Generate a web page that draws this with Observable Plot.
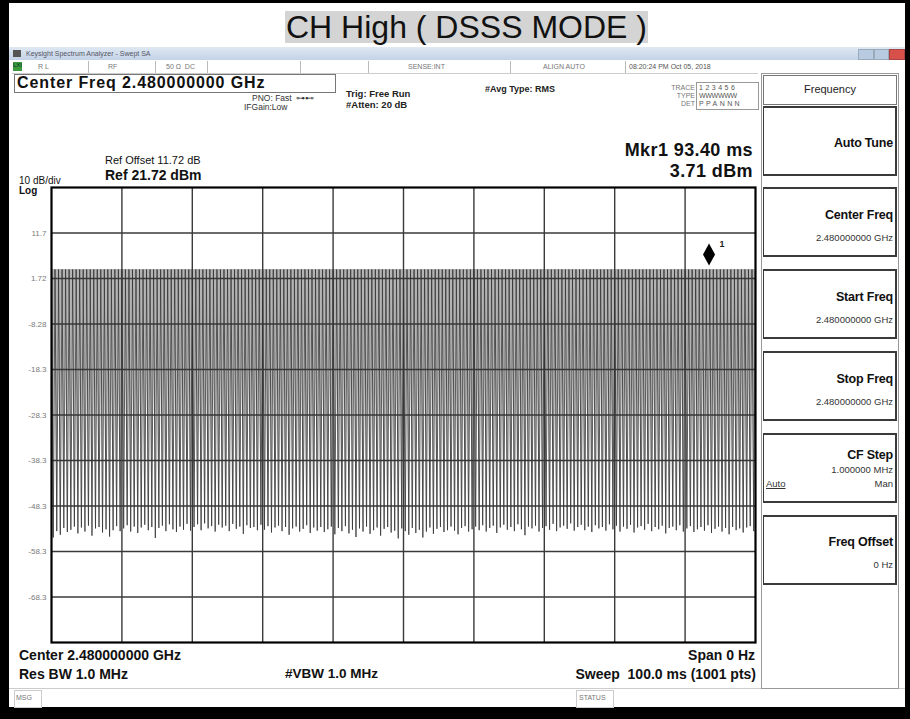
<!DOCTYPE html>
<html><head><meta charset="utf-8">
<script src="https://cdn.jsdelivr.net/npm/d3@7"></script>
<script src="https://cdn.jsdelivr.net/npm/@observablehq/plot@0.6"></script>
<style>
body{margin:0;background:#fff;}
#page{position:relative;width:910px;height:719px;overflow:hidden;background:#fff;font-family:"Liberation Sans",Arial,sans-serif;color:#111;}
.a{position:absolute;white-space:nowrap;line-height:1;}
.b{font-weight:bold;}
.tiny{font-size:7px;color:#777;}
.sep{position:absolute;top:61px;height:12px;border-left:1px solid #bbb;}
.key{position:absolute;left:763px;width:131px;height:66px;border:2px solid #3a3a3a;border-left-width:1.5px;background:#fff;}
.key .l{position:absolute;right:2px;font-weight:bold;font-size:12.5px;letter-spacing:-0.2px;}
.key .v{position:absolute;right:2px;font-size:9.5px;color:#333;}
#plot{position:absolute;left:0;top:180px;}
</style></head>
<body><div id="page">
  <!-- outer black frame -->
  <div class="a" style="left:0;top:0;width:9px;height:719px;background:#000"></div>
  <div class="a" style="left:0;top:0;width:910px;height:3px;background:#000"></div>
  <div class="a" style="left:905px;top:0;width:5px;height:719px;background:#000"></div>
  <div class="a" style="left:0;top:707px;width:910px;height:12px;background:#000"></div>

  <!-- title -->
  <div class="a" style="left:285px;top:11px;height:32px;background:#d4d4d4;font-size:32px;line-height:32px;padding:0 1px;">CH High ( DSSS MODE )</div>

  <!-- window title bar -->
  <div class="a" style="left:9px;top:47px;width:896px;height:13px;background:linear-gradient(#dfe8f3,#c3d3e6);"></div>
  <div class="a" style="left:13px;top:50px;width:8px;height:7px;background:#555;"></div>
  <div class="a tiny" style="left:26px;top:50px;color:#556;">Keysight Spectrum Analyzer - Swept SA</div>
  <div class="a" style="left:858px;top:49px;width:14px;height:9px;background:#b9cbe0;border:1px solid #9ab;"></div>
  <div class="a" style="left:874px;top:49px;width:13px;height:9px;background:#b9cbe0;border:1px solid #9ab;"></div>
  <div class="a" style="left:889px;top:49px;width:14px;height:9px;background:#d8504a;border:1px solid #a44;"></div>

  <!-- status row -->
  <div class="a" style="left:12px;top:60px;width:746px;height:13px;border-bottom:1px solid #ccc;"></div>
  <div class="a" style="left:13px;top:62px;width:9px;height:9px;background:#3c9a3c;font-size:6px;color:#033;">LXI</div>
  <div class="a tiny" style="left:38px;top:63px;">R L</div>
  <div class="sep" style="left:88px"></div>
  <div class="a tiny" style="left:108px;top:63px;">RF</div>
  <div class="sep" style="left:155px"></div>
  <div class="a tiny" style="left:166px;top:63px;">50 Ω&nbsp;&nbsp;DC</div>
  <div class="sep" style="left:207px"></div>
  <div class="sep" style="left:300px"></div>
  <div class="sep" style="left:368px"></div>
  <div class="a tiny" style="left:408px;top:63px;">SENSE:INT</div>
  <div class="sep" style="left:510px"></div>
  <div class="a tiny" style="left:543px;top:63px;">ALIGN AUTO</div>
  <div class="sep" style="left:625px"></div>
  <div class="a tiny" style="left:629px;top:63px;color:#555;">08:20:24 PM Oct 05, 2018</div>

  <!-- header info -->
  <div class="a" style="left:14px;top:74px;width:320px;height:17px;border:1px solid #777;"></div>
  <div class="a b" style="left:17px;top:75px;font-size:16px;letter-spacing:0.9px;">Center Freq 2.480000000 GHz</div>
  <div class="a" style="left:252px;top:94px;font-size:8.5px;color:#333;">PNO: Fast&nbsp;&nbsp;⊶⊷</div>
  <div class="a" style="left:244px;top:103px;font-size:8.5px;color:#333;">IFGain:Low</div>
  <div class="a b" style="left:346px;top:89px;font-size:9.5px;color:#222;">Trig: Free Run</div>
  <div class="a b" style="left:346px;top:100px;font-size:9.5px;color:#222;">#Atten: 20 dB</div>
  <div class="a b" style="left:485px;top:85px;font-size:9px;color:#222;">#Avg Type: RMS</div>
  <div class="a tiny" style="left:660px;top:84px;width:35px;text-align:right;">TRACE</div>
  <div class="a tiny" style="left:660px;top:92px;width:35px;text-align:right;">TYPE</div>
  <div class="a tiny" style="left:660px;top:100px;width:35px;text-align:right;">DET</div>
  <div class="a" style="left:696px;top:82px;width:61px;height:26px;border:1px solid #999;"></div>
  <div class="a tiny" style="left:699px;top:84px;letter-spacing:2.5px;color:#555;">123456</div>
  <div class="a tiny" style="left:699px;top:92px;letter-spacing:-0.3px;color:#555;">WWWWWW</div>
  <div class="a tiny" style="left:699px;top:100px;letter-spacing:2.4px;color:#555;">PPANNN</div>
  <div class="a b" style="left:560px;top:141px;width:193px;text-align:right;font-size:18px;letter-spacing:0.4px;">Mkr1 93.40 ms</div>
  <div class="a b" style="left:560px;top:162px;width:193px;text-align:right;font-size:18px;letter-spacing:0.4px;">3.71 dBm</div>
  <div class="a" style="left:105px;top:155px;font-size:11px;">Ref Offset 11.72 dB</div>
  <div class="a b" style="left:105px;top:168px;font-size:14px;">Ref 21.72 dBm</div>
  <div class="a" style="left:19px;top:176px;font-size:10px;">10 dB/div</div>
  <div class="a b" style="left:19px;top:186px;font-size:10px;">Log</div>

  <!-- footer info -->
  <div class="a b" style="left:19px;top:648px;font-size:14px;">Center 2.480000000 GHz</div>
  <div class="a b" style="left:19px;top:667px;font-size:14px;">Res BW 1.0 MHz</div>
  <div class="a b" style="left:285px;top:667px;font-size:13.5px;">#VBW 1.0 MHz</div>
  <div class="a b" style="left:560px;top:648px;width:195px;text-align:right;font-size:14px;">Span 0 Hz</div>
  <div class="a b" style="left:460px;top:667px;width:296px;text-align:right;font-size:14px;">Sweep&nbsp;&nbsp;100.0 ms (1001 pts)</div>
  <div class="a" style="left:9px;top:688px;width:896px;height:19px;border-top:1px solid #ccc;"></div>
  <div class="a" style="left:14px;top:690px;width:26px;height:16px;border:1px solid #ccc;"></div>
  <div class="a tiny" style="left:16px;top:694px;">MSG</div>
  <div class="a" style="left:576px;top:690px;width:36px;height:16px;border:1px solid #ccc;"></div>
  <div class="a tiny" style="left:579px;top:694px;">STATUS</div>

  <!-- softkey panel -->
  <div class="a" style="left:761px;top:73px;width:136px;height:614px;border:1px solid #999;"></div>
  <div class="a" style="left:763px;top:75px;width:132px;height:28px;border:1px solid #777;"></div>
  <div class="a" style="left:763px;top:84px;width:134px;text-align:center;font-size:11px;color:#222;">Frequency</div>
  <div class="key" style="top:106px"><div class="l" style="top:28px">Auto Tune</div></div>
  <div class="key" style="top:187px"><div class="l" style="top:19px">Center Freq</div><div class="v" style="top:43px">2.480000000 GHz</div></div>
  <div class="key" style="top:269px"><div class="l" style="top:19px">Start Freq</div><div class="v" style="top:43px">2.480000000 GHz</div></div>
  <div class="key" style="top:351px"><div class="l" style="top:19px">Stop Freq</div><div class="v" style="top:43px">2.480000000 GHz</div></div>
  <div class="key" style="top:433px"><div class="l" style="top:13px">CF Step</div><div class="v" style="top:29px">1.000000 MHz</div><div class="v" style="top:43px">Man</div><div class="v" style="top:43px;left:2px;right:auto;text-decoration:underline;">Auto</div></div>
  <div class="key" style="top:515px"><div class="l" style="top:18px">Freq Offset</div><div class="v" style="top:42px">0 Hz</div></div>

  <div id="plot"></div>
</div>
<script>
// ---- data ----
const sweepMs = 100;                 // sweep time, 0 span
const refLevel = 21.72;              // top of graticule (dBm)
const bottomLevel = -78.28;          // bottom of graticule (dBm)
const yTickValues = [11.72, 1.72, -8.28, -18.28, -28.28, -38.28, -48.28, -58.28, -68.28];
const yTickLabels = ["11.7", "1.72", "-8.28", "-18.3", "-28.3", "-38.3", "-48.3", "-58.3", "-68.3"];
const xGridMs = [10, 20, 30, 40, 50, 60, 70, 80, 90];
const burstLevel = 3.7;              // level of the on-bursts (dBm)
const floorLevels = [
  -55.2,-53.8,-54.6,-53.1,-54.0,-53.5,-52.8,-54.3,-53.0,-53.9,-52.6,-54.8,-53.2,-52.9,-54.1,-53.4,-55.0,-53.6,-52.7,-53.8,
  -53.2,-52.5,-53.9,-52.8,-54.2,-53.0,-52.4,-53.6,-52.9,-55.3,-53.1,-52.6,-53.8,-52.3,-53.4,-54.0,-52.8,-53.5,-52.2,-53.7,
  -52.9,-52.3,-53.6,-52.1,-53.2,-52.7,-53.9,-52.4,-53.0,-52.6,-53.8,-52.2,-53.3,-52.8,-54.4,-52.5,-53.1,-52.9,-53.6,-52.4,
  -53.5,-52.7,-54.1,-53.0,-52.6,-53.8,-52.9,-54.6,-53.2,-52.8,-53.9,-53.3,-52.5,-54.2,-53.0,-53.7,-52.9,-54.0,-53.4,-52.8,
  -54.5,-53.1,-53.8,-52.7,-54.3,-53.5,-55.1,-53.2,-53.9,-52.8,-54.4,-53.6,-53.0,-54.8,-53.3,-52.9,-54.1,-53.7,-55.4,-53.2,
  -53.8,-54.6,-53.1,-54.2,-53.5,-55.2,-53.9,-53.0,-54.4,-53.3,-52.9,-54.0,-53.6,-52.8,-53.7,-54.5,-53.1,-52.7,-53.9,-53.4,
  -52.8,-53.6,-52.5,-53.9,-53.1,-52.6,-54.2,-53.0,-52.4,-53.5,-52.9,-53.8,-52.3,-53.4,-54.7,-52.8,-53.2,-52.6,-53.9,-53.1,
  -52.7,-53.5,-52.2,-53.8,-53.0,-52.6,-53.3,-52.1,-53.7,-52.9,-52.4,-53.6,-52.8,-54.0,-52.5,-53.2,-52.9,-53.7,-52.3,-53.4,
  -52.6,-53.9,-52.8,-53.3,-52.4,-54.1,-53.0,-52.7,-53.5,-52.2,-53.8,-52.9,-53.4,-52.6,-54.3,-53.1,-52.8,-53.6,-52.5,-53.9,
  -53.2,-52.7,-54.0,-53.4,-52.9,-53.7,-52.5,-54.2,-53.3,-52.8,-53.9,-53.1,-54.5,-52.9,-53.6,-53.2,-54.1,-53.0,-52.7,-53.8
];
const markerTime = [93.40];
const markerLevel = [3.71];
const markerLabel = ["1"];

// trace table: each burst sample followed by a gap sample at the floor level
const step = sweepMs / floorLevels.length;
const trace = [];
floorLevels.forEach((f, i) => {
  trace.push({t: i * step, v: burstLevel});
  trace.push({t: i * step + step / 2, v: f});
});
trace.push({t: sweepMs, v: burstLevel});
const markers = markerTime.map((t, i) => ({t, v: markerLevel[i], label: markerLabel[i]}));

const tallDiamond = {
  draw(ctx, size) {
    const s = Math.sqrt(size);
    const w = s * 0.68, h = s * 1.24;
    ctx.moveTo(0, -h); ctx.lineTo(w, 0); ctx.lineTo(0, h); ctx.lineTo(-w, 0); ctx.closePath();
  }
};

const chart = Plot.plot({
  width: 770,
  height: 470,
  marginLeft: 51,
  marginRight: 15,
  marginTop: 7,
  marginBottom: 8,
  style: {fontFamily: "Liberation Sans, Arial, sans-serif", background: "transparent", overflow: "visible"},
  x: {domain: [0, sweepMs], axis: null},
  y: {domain: [bottomLevel, refLevel], axis: null},
  marks: [
    Plot.areaY(trace, {x: "t", y1: "v", y2: burstLevel, fill: "#b4b4b4", curve: "linear"}),
    Plot.ruleY(yTickValues, {stroke: "#3a3a3a", strokeWidth: 1.4}),
    Plot.ruleX(xGridMs, {stroke: "#3a3a3a", strokeWidth: 1.4}),
    Plot.line(trace, {x: "t", y: "v", stroke: "#333", strokeWidth: 0.8, curve: "linear"}),
    Plot.axisY(yTickValues, {label: null, tickSize: 0, tickPadding: 5, fontSize: 8, color: "#7a7a7a", tickFormat: (d, i) => yTickLabels[i]}),
    Plot.frame({stroke: "#000", strokeWidth: 2.2}),
    Plot.dot(markers, {x: "t", y: "v", symbol: tallDiamond, r: 5, fill: "#000", stroke: "none", dy: -15}),
    Plot.text(markers, {x: "t", y: "v", text: "label", dx: 13, dy: -25, fontSize: 9, fontWeight: "bold", fill: "#222"})
  ]
});
document.getElementById("plot").appendChild(chart);
</script>
</body></html>
